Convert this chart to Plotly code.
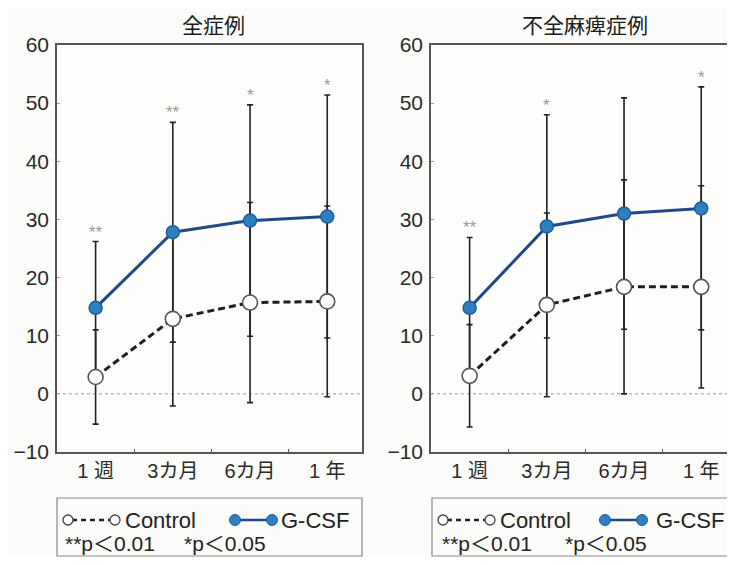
import plotly.graph_objects as go

categories = ["1 週", "3カ月", "6カ月", "1 年"]

# 全症例
all_control_mean = [2.9, 12.9, 15.7, 15.9]
all_control_sd = [8.1, 15.0, 17.2, 16.4]
all_gcsf_mean = [14.8, 27.8, 29.8, 30.5]
all_gcsf_sd = [11.4, 18.9, 19.9, 20.9]
all_sig = ["**", "**", "*", "*"]

# 不全麻痺症例
inc_control_mean = [3.1, 15.3, 18.4, 18.4]
inc_control_sd = [8.8, 15.8, 18.4, 17.4]
inc_gcsf_mean = [14.8, 28.8, 31.0, 31.9]
inc_gcsf_sd = [12.1, 19.2, 19.9, 20.9]
inc_sig = ["**", "*", "", "*"]

titles = ["全症例", "不全麻痺症例"]
y_ticks = [-10, 0, 10, 20, 30, 40, 50, 60]

W, H = 719, 549   # fits the 735x565 window together with the 8px body margin
OFF = 8

def px(x):
    return (x - OFF) / W

def py(y):
    return 1 - (y - OFF) / H

FONT = "Liberation Sans, Arial, Noto Sans CJK JP, sans-serif"
CJK = "Noto Sans CJK JP, sans-serif"
BLUE_LINE = "#1f4a85"
BLUE_FILL = "#2f7fc0"
FRAME = "#555555"

fig = go.Figure()

panels = [
    (all_control_mean, all_control_sd, all_gcsf_mean, all_gcsf_sd, all_sig, "x", "y"),
    (inc_control_mean, inc_control_sd, inc_gcsf_mean, inc_gcsf_sd, inc_sig, "x2", "y2"),
]

for cm, csd, gm, gsd, sig, xa, ya in panels:
    for m, s in [(cm, csd), (gm, gsd)]:
        fig.add_trace(go.Scatter(
            x=categories, y=m, mode="markers", xaxis=xa, yaxis=ya,
            marker=dict(size=2, color="rgba(0,0,0,0)"),
            error_y=dict(type="data", array=s, visible=True, color="#222222",
                         thickness=1.6, width=3),
            showlegend=False, hoverinfo="skip"))
    fig.add_trace(go.Scatter(
        x=categories, y=cm, mode="lines+markers", xaxis=xa, yaxis=ya,
        line=dict(color="#1e1e1e", width=3, dash="7px,4px"),
        marker=dict(size=15, color="white", line=dict(color="#555555", width=1.6)),
        showlegend=False, name="Control"))
    fig.add_trace(go.Scatter(
        x=categories, y=gm, mode="lines+markers", xaxis=xa, yaxis=ya,
        line=dict(color=BLUE_LINE, width=3),
        marker=dict(size=13, color=BLUE_FILL, line=dict(color="#1b5d99", width=1.5)),
        showlegend=False, name="G-CSF"))
    for c, m, s, t in zip(categories, gm, gsd, sig):
        if t:
            fig.add_annotation(x=c, y=m + s, xref=xa, yref=ya, text=t,
                               showarrow=False, yanchor="bottom", yshift=-2,
                               font=dict(family=FONT, size=17, color="#9a9a9a"))
    fig.add_shape(type="line", xref=f"{xa} domain", yref=ya, x0=0, x1=1, y0=0, y1=0,
                  line=dict(color="#b8b8b8", width=1.5, dash="dot"), layer="below")

axis_common_x = dict(type="category", showgrid=False, automargin=False,
                     showline=True, linecolor=FRAME, linewidth=1.5,
                     ticks="inside", ticklen=3, tickcolor=FRAME, tickson="boundaries",
                     tickfont=dict(family=FONT, size=20, color="#2a2a2a"),
                     zeroline=False, fixedrange=True)
axis_common_y = dict(range=[-10, 60], tickvals=y_ticks, showgrid=False, automargin=False,
                     showline=True, linecolor=FRAME, linewidth=1.5,
                     ticks="inside", ticklen=3, tickcolor="#999999",
                     tickfont=dict(family=FONT, size=21, color="#2a2a2a"),
                     zeroline=False, fixedrange=True, ticklabelstandoff=2)

ydom = [py(452), py(45)]
unit_px = (362 - 57) / 3.95
right_units = (W + OFF - 431) / unit_px

fig.update_layout(
    width=W, height=H, autosize=False,
    margin=dict(l=0, r=0, t=0, b=0, pad=0, autoexpand=False),
    paper_bgcolor="#fcfcfa", plot_bgcolor="#fefefd",
    xaxis=dict(domain=[px(57), px(362)], anchor="y", mirror=True,
               range=[-0.5, 3.45], **axis_common_x),
    yaxis=dict(domain=ydom, anchor="x", mirror=True, **axis_common_y),
    xaxis2=dict(domain=[px(431), 1.0], anchor="y2", mirror=True,
                range=[-0.5, -0.5 + right_units], **axis_common_x),
    yaxis2=dict(domain=ydom, anchor="x2", mirror=False, **axis_common_y),
)

for t, xc in zip(titles, [213, 585]):
    fig.add_annotation(text=t, xref="paper", yref="paper", x=px(xc), y=py(24),
                       showarrow=False, xanchor="center", yanchor="middle",
                       font=dict(family=CJK, size=21, color="#1a1a1a"))

for x0, x1 in [(57, 362), (432, 745)]:
    fig.add_shape(type="rect", xref="paper", yref="paper", x0=px(x0), x1=px(x1),
                  y0=py(556), y1=py(498), line=dict(color="#888888", width=1.2),
                  fillcolor="rgba(0,0,0,0)")

legend_layout = [
    (63, 123, 230, 279, 63, 182),
    (438, 498, 600, 654, 440, 563),
]
LY1, LY2 = 520, 543
for cs, ct, gs, gt, la, lb in legend_layout:
    fig.add_shape(type="line", xref="paper", yref="paper", x0=px(cs + 9), x1=px(cs + 48),
                  y0=py(LY1), y1=py(LY1), line=dict(color="#222222", width=2.5, dash="5px,4px"))
    for cx in (cs + 5, cs + 52):
        fig.add_shape(type="circle", xref="paper", yref="paper",
                      x0=px(cx - 5), x1=px(cx + 5), y0=py(LY1 + 5), y1=py(LY1 - 5),
                      line=dict(color="#444444", width=1.3), fillcolor="white")
    fig.add_shape(type="line", xref="paper", yref="paper", x0=px(gs + 5), x1=px(gs + 42),
                  y0=py(LY1), y1=py(LY1), line=dict(color=BLUE_LINE, width=2.5))
    for cx in (gs + 5, gs + 42):
        fig.add_shape(type="circle", xref="paper", yref="paper",
                      x0=px(cx - 5.5), x1=px(cx + 5.5), y0=py(LY1 + 5.5), y1=py(LY1 - 5.5),
                      line=dict(color="#1b5d99", width=1), fillcolor=BLUE_FILL)
    for txt, x, y, sz in [("Control", ct, LY1, 22), ("G-CSF", gt, LY1, 22),
                          ("**p＜0.01", la, LY2, 21), ("*p＜0.05", lb, LY2, 21)]:
        fig.add_annotation(text=txt, xref="paper", yref="paper", x=px(x), y=py(y),
                           showarrow=False, xanchor="left", yanchor="middle",
                           font=dict(family=FONT, size=sz, color="#222222"))

fig.write_html("out.html")
